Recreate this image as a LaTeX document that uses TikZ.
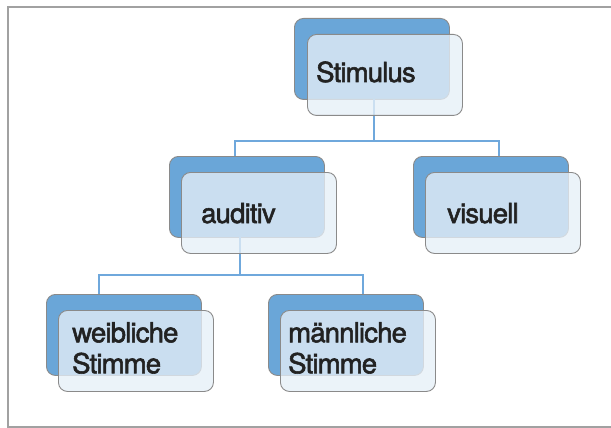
\documentclass[tikz,border=0pt]{standalone}
\usepackage{fontspec}
\setmainfont{TeX Gyre Heros}[FakeBold=2,LetterSpace=-3]
\definecolor{backblue}{HTML}{6AA6D8}
\definecolor{frontfill}{HTML}{E6EFF7}
\definecolor{boxline}{HTML}{8A8A8A}
\definecolor{linkblue}{HTML}{6FA8DC}
\definecolor{txt}{HTML}{222222}
\begin{document}
\begin{tikzpicture}[x=1pt,y=-1pt,
  backbox/.style={draw=boxline,line width=0.9pt,fill=backblue,rounded corners=9pt,minimum width=155pt,minimum height=81pt,inner sep=0pt,anchor=north west},
  frontbox/.style={draw=boxline,line width=0.9pt,fill=frontfill,fill opacity=0.78,rounded corners=9pt,minimum width=155pt,minimum height=81pt,inner sep=0pt,anchor=north west},
  label/.style={anchor=base west,inner sep=0pt,text=txt,font=\fontsize{27.5pt}{31pt}\selectfont,align=left},
  link/.style={draw=linkblue,line width=1.6pt}]
\useasboundingbox (0,0) rectangle (611,428);
\draw[color=boxline!80,line width=1.3pt] (640,7) -- (8,7) -- (8,427) -- (640,427);
% back boxes
\node[backbox] (sB) at (294,18) {};
\node[backbox] (aB) at (169,156) {};
\node[backbox] (vB) at (413,156) {};
\node[backbox] (wB) at (46,294) {};
\node[backbox] (mB) at (268,294) {};
% connectors
\coordinate (j1) at (374,141);
\coordinate (j2) at (240,275);
\draw[link] (374,99) -- (j1);
\draw[link] (235,156) |- (j1) -| (499,156);
\draw[link] (240,237) -- (j2);
\draw[link] (99,294) |- (j2) -| (363,294);
% front boxes
\node[frontbox] (sF) at (307,34) {};
\node[frontbox] (aF) at (181,172) {};
\node[frontbox] (vF) at (425,172) {};
\node[frontbox] (wF) at (58,310) {};
\node[frontbox] (mF) at (280,310) {};
% labels
\node[label] (sT) at (316,82) {Stimulus};
\node[label] (aT) at (201,223) {auditiv};
\node[label] (vT) at (447,223) {visuell};
\node[label,anchor=north west] (wT) at (72,322) {weibliche\\Stimme};
\node[label,anchor=north west] (mT) at (288,322) {männliche\\Stimme};
\end{tikzpicture}
\end{document}
